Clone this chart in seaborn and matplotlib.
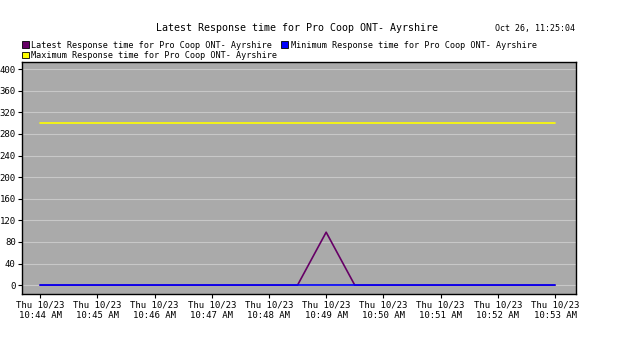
import pandas as pd
import seaborn as sns
import matplotlib.pyplot as plt
import matplotlib.dates as mdates
from matplotlib.colors import to_hex
from matplotlib.patches import Patch

sns.set_theme(style="white")
plt.rcParams['font.family'] = ['DejaVu Sans Mono']
plt.rcParams['text.color'] = 'black'
plt.rcParams['xtick.color'] = 'black'
plt.rcParams['ytick.color'] = 'black'

# data
times = pd.date_range('2014-10-23 10:44', '2014-10-23 10:53', freq='30s')
latest = [0, 0, 0, 0, 0, 0, 0, 0, 0, 0, 98, 0, 0, 0, 0, 0, 0, 0, 0]
minimum = [1] * len(times)
maximum = [300] * len(times)
name = 'Pro Coop ONT- Ayrshire'
labels = ['Latest Response time for ' + name,
          'Minimum Response time for ' + name,
          'Maximum Response time for ' + name]
colors = ['#660066', '#0000ff', '#ffff00']

df = pd.DataFrame({'time': times, labels[0]: latest, labels[1]: minimum, labels[2]: maximum})
long = df.melt(id_vars='time', var_name='series', value_name='value')

fig = plt.figure(figsize=(6.26, 3.53), dpi=100)
ax = fig.add_axes([0.0351, 0.167, 0.885, 0.657])
ax.set_facecolor('#aaaaaa')

sns.lineplot(data=long, x='time', y='value', hue='series', hue_order=labels,
             palette=colors, linewidth=1.2, legend=False, ax=ax)
# draw order: latest, then minimum, then maximum on top
for line in ax.lines:
    c = to_hex(line.get_color())
    if c in colors:
        line.set_zorder(3 + colors.index(c))

ax.set_ylim(-16.5, 413)
ax.set_xlim(times[0] - pd.Timedelta(seconds=19), times[-1] + pd.Timedelta(seconds=22))
ax.set_yticks(range(0, 401, 40))
ax.xaxis.set_major_locator(mdates.MinuteLocator())
ax.xaxis.set_major_formatter(mdates.DateFormatter('%a %m/%d\n%I:%M %p'))
ax.yaxis.grid(True, color='#c8c8c8', linewidth=0.8)
ax.set_axisbelow(True)
ax.tick_params(axis='both', labelsize=6.5, length=3, width=0.8, direction='out',
               bottom=True, left=True, pad=1.5, colors='black')
ax.set_xlabel('')
ax.set_ylabel('')
for s in ax.spines.values():
    s.set_color('black')
    s.set_linewidth(1)

fig.text(0.475, 0.922, 'Latest Response time for ' + name, ha='center', va='center', fontsize=7.2)
fig.text(0.79, 0.918, 'Oct 26, 11:25:04', ha='left', va='center', fontsize=6)

handles = [Patch(facecolor=c, edgecolor='black', linewidth=0.6) for c in colors]
order = [0, 2, 1]
fig.legend([handles[i] for i in order], [labels[i] for i in order], ncol=2,
           loc='upper left', bbox_to_anchor=(0.035, 0.885), frameon=False,
           fontsize=6.1, handlelength=0.8, handleheight=0.8, handletextpad=0.3,
           columnspacing=0.5, labelspacing=0.15, borderpad=0, borderaxespad=0)

fig.savefig('out.png', dpi=100, facecolor='white')
